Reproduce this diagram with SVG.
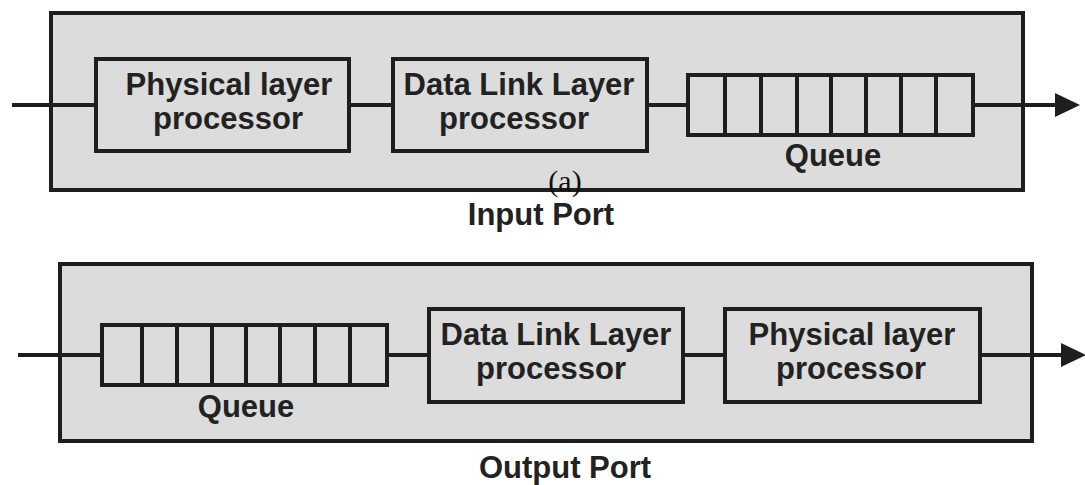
<svg xmlns="http://www.w3.org/2000/svg" width="1085" height="485" viewBox="0 0 1085 485">
<style>
.port{fill:#dcdcdc;stroke:#1e1e1e;stroke-width:4}
.box{fill:#dcdcdc;stroke:#1e1e1e;stroke-width:4}
.div{stroke:#1e1e1e;stroke-width:4}
.wire{stroke:#1e1e1e;stroke-width:4;fill:none}
.t{font-family:"Liberation Sans",Arial,sans-serif;font-weight:bold;font-size:31px;fill:#222;text-anchor:middle}
.cap{font-family:"Liberation Serif","Times New Roman",serif;font-size:30px;fill:#111;text-anchor:middle}
</style>
<defs>
<marker id="ah" markerUnits="userSpaceOnUse" markerWidth="26" markerHeight="26" refX="0" refY="12" orient="auto">
<path d="M0,0 L25,12 L0,24 z" fill="#1e1e1e"/>
</marker>
</defs>
<rect width="1085" height="485" fill="#ffffff"/>

<g id="input-port">
<rect class="port" x="51" y="13" width="972" height="177"/>
</g>
<g id="output-port">
<rect class="port" x="60" y="264" width="972" height="177"/>
</g>

<g id="connectors">
<line class="wire" x1="12" y1="105" x2="96" y2="105"/>
<line class="wire" x1="349" y1="105" x2="393" y2="105"/>
<line class="wire" x1="647" y1="105" x2="688" y2="105"/>
<line class="wire" x1="973" y1="105" x2="1055" y2="105" marker-end="url(#ah)"/>
<line class="wire" x1="18" y1="355" x2="102" y2="355"/>
<line class="wire" x1="387" y1="355" x2="429" y2="355"/>
<line class="wire" x1="683" y1="355" x2="725" y2="355"/>
<line class="wire" x1="980" y1="355" x2="1061" y2="355" marker-end="url(#ah)"/>
</g>

<g id="in-physical">
<rect class="box" x="96" y="59" width="253" height="92"/>
<text class="t" x="229" y="95">Physical layer</text>
<text class="t" x="228" y="129">processor</text>
</g>
<g id="in-datalink">
<rect class="box" x="393" y="59" width="254" height="92"/>
<text class="t" x="519" y="95">Data Link Layer</text>
<text class="t" x="514" y="129">processor</text>
</g>
<g id="in-queue">
<rect class="box" x="688" y="75" width="285" height="60"/>
<line class="div" x1="725" y1="75" x2="725" y2="135"/>
<line class="div" x1="761" y1="75" x2="761" y2="135"/>
<line class="div" x1="797" y1="75" x2="797" y2="135"/>
<line class="div" x1="831" y1="75" x2="831" y2="135"/>
<line class="div" x1="866" y1="75" x2="866" y2="135"/>
<line class="div" x1="901" y1="75" x2="901" y2="135"/>
<line class="div" x1="936" y1="75" x2="936" y2="135"/>
<text class="t" x="833" y="166">Queue</text>
</g>
<g id="label-a">
<text class="cap" x="565" y="191">(a)</text>
</g>
<g id="label-input">
<text class="t" x="541" y="225">Input Port</text>
</g>

<g id="out-queue">
<rect class="box" x="102" y="325" width="285" height="60"/>
<line class="div" x1="142" y1="325" x2="142" y2="385"/>
<line class="div" x1="177" y1="325" x2="177" y2="385"/>
<line class="div" x1="212" y1="325" x2="212" y2="385"/>
<line class="div" x1="246" y1="325" x2="246" y2="385"/>
<line class="div" x1="280" y1="325" x2="280" y2="385"/>
<line class="div" x1="315" y1="325" x2="315" y2="385"/>
<line class="div" x1="350" y1="325" x2="350" y2="385"/>
<text class="t" x="246" y="417">Queue</text>
</g>
<g id="out-datalink">
<rect class="box" x="429" y="309" width="254" height="93"/>
<text class="t" x="556" y="345">Data Link Layer</text>
<text class="t" x="551" y="379">processor</text>
</g>
<g id="out-physical">
<rect class="box" x="725" y="309" width="255" height="93"/>
<text class="t" x="852" y="345">Physical layer</text>
<text class="t" x="851" y="379">processor</text>
</g>
<g id="label-output">
<text class="t" x="565" y="478">Output Port</text>
</g>
</svg>
